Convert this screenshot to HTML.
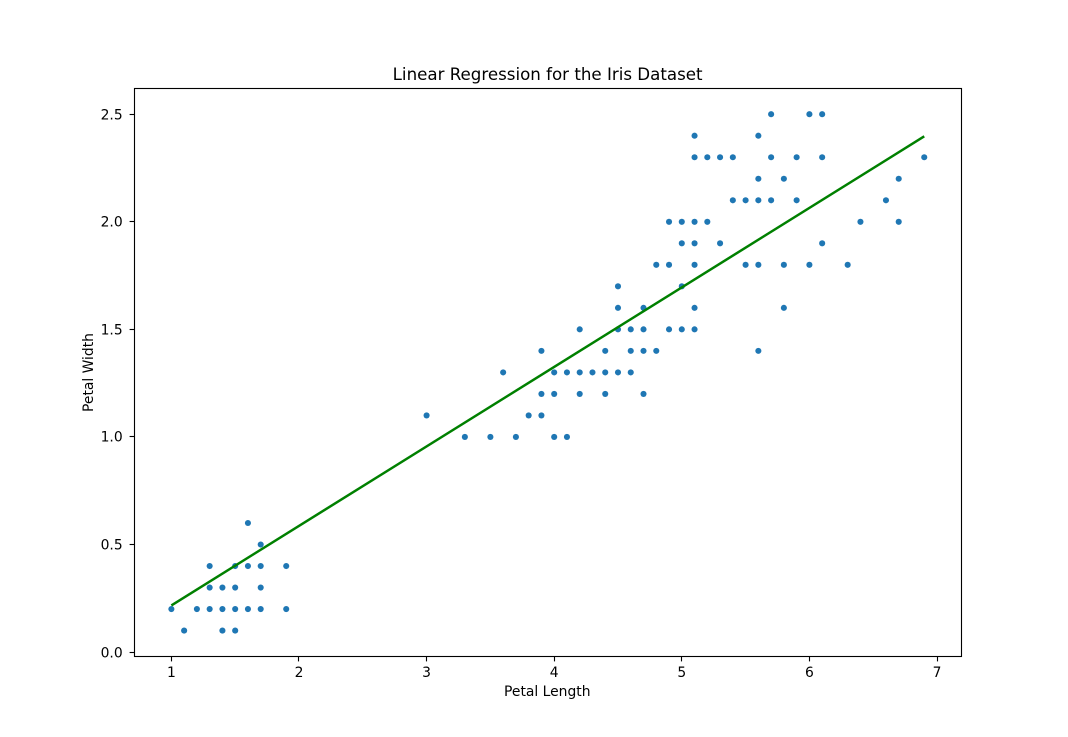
<!DOCTYPE html>
<html lang="en">
<head>
<meta charset="utf-8">
<title>Linear Regression for the Iris Dataset</title>
<style>
html,body{margin:0;padding:0;background:#fff;}
svg{display:block;}
text{font-family:"DejaVu Sans",sans-serif;fill:#000;}
</style>
</head>
<body>
<svg id="chart" xmlns="http://www.w3.org/2000/svg" width="1068" height="737" viewBox="0 0 1068 737">
<rect x="0" y="0" width="1068" height="737" fill="#fff"/>
<g id="marks"></g>
<rect x="134.5" y="88.5" width="827" height="568" fill="none" stroke="#000" stroke-width="1.11"/>
<g id="axes"></g>
<text x="547.6" y="80" text-anchor="middle" font-size="16.67">Linear Regression for the Iris Dataset</text>
<text x="547.3" y="696" text-anchor="middle" font-size="13.89">Petal Length</text>
<text transform="translate(93,372.5) rotate(-90)" text-anchor="middle" font-size="13.89">Petal Width</text>
</svg>
<script>
const petalLength = [
  1.1,1.4,1.5,
  1.0,1.2,1.3,1.4,1.5,1.6,1.7,1.9,
  1.3,1.4,1.5,1.7,
  1.3,1.5,1.6,1.7,1.9,
  1.7,
  1.6,
  3.3,3.5,3.7,4.0,4.1,
  3.0,3.8,3.9,
  3.9,4.0,4.2,4.4,4.7,
  3.6,4.0,4.1,4.2,4.3,4.4,4.5,4.6,
  3.9,4.4,4.6,4.7,4.8,5.6,
  4.2,4.5,4.6,4.7,4.9,5.0,5.1,
  4.5,4.7,5.1,5.8,
  4.5,5.0,
  4.8,4.9,5.1,5.5,5.6,5.8,6.0,6.3,
  5.0,5.1,5.3,6.1,
  4.9,5.0,5.1,5.2,6.4,6.7,
  5.4,5.5,5.6,5.7,5.9,6.6,
  5.6,5.8,6.7,
  5.1,5.2,5.3,5.4,5.7,5.9,6.1,6.9,
  5.1,5.6,
  5.7,6.0,6.1
];
const petalWidth = [
  0.1,0.1,0.1,
  0.2,0.2,0.2,0.2,0.2,0.2,0.2,0.2,
  0.3,0.3,0.3,0.3,
  0.4,0.4,0.4,0.4,0.4,
  0.5,
  0.6,
  1.0,1.0,1.0,1.0,1.0,
  1.1,1.1,1.1,
  1.2,1.2,1.2,1.2,1.2,
  1.3,1.3,1.3,1.3,1.3,1.3,1.3,1.3,
  1.4,1.4,1.4,1.4,1.4,1.4,
  1.5,1.5,1.5,1.5,1.5,1.5,1.5,
  1.6,1.6,1.6,1.6,
  1.7,1.7,
  1.8,1.8,1.8,1.8,1.8,1.8,1.8,1.8,
  1.9,1.9,1.9,1.9,
  2.0,2.0,2.0,2.0,2.0,2.0,
  2.1,2.1,2.1,2.1,2.1,2.1,
  2.2,2.2,2.2,
  2.3,2.3,2.3,2.3,2.3,2.3,2.3,2.3,
  2.4,2.4,
  2.5,2.5,2.5
];
const fitLength = [1.0, 6.9];
const fitWidth = [0.217, 2.397];
const xTicks = [1, 2, 3, 4, 5, 6, 7];
const xTickLabels = ["1", "2", "3", "4", "5", "6", "7"];
const yTicks = [0, 0.5, 1, 1.5, 2, 2.5];
const yTickLabels = ["0.0", "0.5", "1.0", "1.5", "2.0", "2.5"];

const NS = "http://www.w3.org/2000/svg";
const plotLeft = 134.5, plotRight = 961.5, plotTop = 88.5, plotBottom = 656.5;
const xMin = 0.711, xMax = 7.192, yMin = -0.0205, yMax = 2.6195;
function xScale(v){ return plotLeft + (v - xMin) / (xMax - xMin) * (plotRight - plotLeft); }
function yScale(v){ return plotBottom - (v - yMin) / (yMax - yMin) * (plotBottom - plotTop); }
function snap(p){ return Math.floor(p) + 0.5; }
function make(tag, attrs, parent){
  const el = document.createElementNS(NS, tag);
  for (const k in attrs) el.setAttribute(k, attrs[k]);
  parent.appendChild(el);
  return el;
}
const marks = document.getElementById("marks");
const axes = document.getElementById("axes");

petalLength.forEach(function(v, i){
  const dot = make("circle", {cx: xScale(v), cy: yScale(petalWidth[i]), r: 3.05, fill: "#1f77b4"}, marks);
  
  
});

const fit = make("polyline", {
  points: fitLength.map(function(v, i){ return xScale(v) + "," + yScale(fitWidth[i]); }).join(" "),
  fill: "none", stroke: "#008000", "stroke-width": 2.5
}, marks);



xTicks.forEach(function(v, i){
  const x = snap(xScale(v));
  const tick = make("line", {x1: x, x2: x, y1: plotBottom, y2: plotBottom + 4.9, stroke: "#000", "stroke-width": 1.11}, axes);
  
  
  const label = make("text", {x: xScale(v), y: 677, "text-anchor": "middle", "font-size": 13.89}, axes);
  
  
  label.textContent = xTickLabels[i];
});

yTicks.forEach(function(v, i){
  const y = snap(yScale(v));
  const tick = make("line", {x1: plotLeft - 4.9, x2: plotLeft, y1: y, y2: y, stroke: "#000", "stroke-width": 1.11}, axes);
  
  
  const label = make("text", {x: 122.7, y: y + 5.2, "text-anchor": "end", "font-size": 13.89}, axes);
  
  
  label.textContent = yTickLabels[i];
});
</script>
</body>
</html>
